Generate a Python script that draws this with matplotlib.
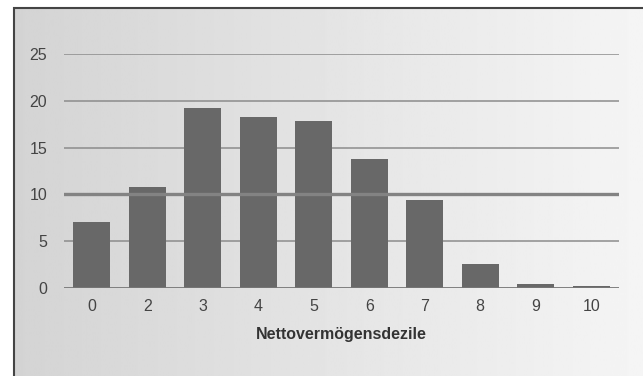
import numpy as np
import matplotlib.pyplot as plt
from matplotlib.patches import Rectangle

plt.rcParams['font.family'] = ['Liberation Sans', 'DejaVu Sans']

# Nettovermögensdezile and bar values (percent)
deciles = ['0', '2', '3', '4', '5', '6', '7', '8', '9', '10']
shares = [7.1, 10.8, 19.2, 18.3, 17.8, 13.8, 9.4, 2.6, 0.45, 0.2]
y_ticks = [0, 5, 10, 15, 20, 25]

fig = plt.figure(figsize=(6.43, 3.76), dpi=100, facecolor='white')

# scanned-paper look: light gray gradient inside a frame, white outside
fx0 = 14 / 643
fy1 = (376 - 8) / 376
bg = fig.add_axes([0, 0, 1, 1], zorder=-10)
grad = np.linspace(0.83, 0.96, 256).reshape(1, -1)
bg.imshow(grad, cmap='gray', vmin=0, vmax=1, aspect='auto', extent=[fx0, 1, 0, fy1])
bg.set_xlim(0, 1)
bg.set_ylim(0, 1)
bg.axis('off')
bg.add_patch(Rectangle((fx0, -0.1), 1.2, fy1 + 0.1, fill=False,
                       edgecolor='#444444', linewidth=1.5))

# axes: x from 64 to 619 px, y 0 at 288 px, 25 at 54 px
left = 64 / 643
width = (619 - 64) / 643
bottom = (376 - 288) / 376
height = (288 - 54) / 376
ax = fig.add_axes([left, bottom, width, height])
ax.patch.set_alpha(0)

x = np.arange(len(deciles))
ax.bar(x, shares, width=0.67, color='#686868', zorder=2)

for v in y_ticks:
    if v == 10:
        ax.axhline(v, color='#838383', linewidth=2.4, zorder=3)
    elif v == 0:
        ax.axhline(v, color='#777777', linewidth=1.3, zorder=3)
    else:
        ax.axhline(v, color='#8c8c8c', linewidth=1.1, zorder=1)

ax.set_xlim(-0.5, len(deciles) - 0.5)
ax.set_ylim(0, 25)
ax.set_xticks(x)
ax.set_xticklabels(deciles)
ax.set_yticks(y_ticks)
ax.tick_params(length=0, labelsize=11.5, colors='#444444')
ax.tick_params(axis='y', pad=12)
ax.tick_params(axis='x', pad=8)
for s in ax.spines.values():
    s.set_visible(False)

ax.set_xlabel('Nettovermögensdezile', fontsize=11.5, fontweight='bold',
              color='#333333', labelpad=9)

fig.savefig('out.png', dpi=100, facecolor='white')
